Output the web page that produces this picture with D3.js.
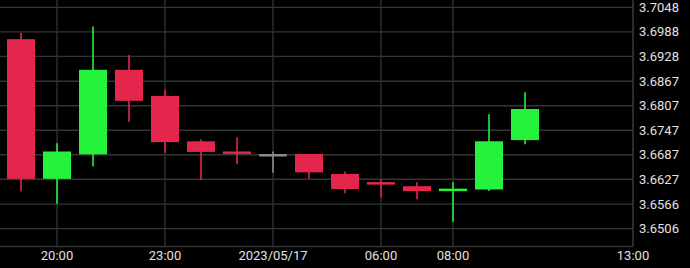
<!DOCTYPE html>
<html>
<head>
<meta charset="utf-8">
<script src="https://cdn.jsdelivr.net/npm/d3@7"></script>
<style>
  html, body { margin: 0; padding: 0; background: #000; }
  svg { display: block; }
</style>
</head>
<body>
<div id="chart"></div>
<script>
// hourly candles (open, high, low, close)
const opens  = [3.6970, 3.6628, 3.6688, 3.6895, 3.6831, 3.6720, 3.6695, 3.6686, 3.6689, 3.6640, 3.6620, 3.6610, 3.6598, 3.6602, 3.6723];
const highs  = [3.6986, 3.6715, 3.7001, 3.6931, 3.6846, 3.6725, 3.6730, 3.6695, 3.6689, 3.6646, 3.6627, 3.6620, 3.6620, 3.6786, 3.6840];
const lows   = [3.6597, 3.6567, 3.6658, 3.6768, 3.6692, 3.6625, 3.6664, 3.6643, 3.6628, 3.6593, 3.6583, 3.6578, 3.6523, 3.6598, 3.6713];
const closes = [3.6628, 3.6695, 3.6895, 3.6819, 3.6718, 3.6694, 3.6689, 3.6686, 3.6644, 3.6603, 3.6614, 3.6598, 3.6604, 3.6720, 3.6799];

const priceTicks = [3.7048, 3.6988, 3.6928, 3.6867, 3.6807, 3.6747, 3.6687, 3.6627, 3.6566, 3.6506];
const timeTickIdx = [1, 4, 7, 10, 12, 17];
const timeTickLabels = ["20:00", "23:00", "2023/05/17", "06:00", "08:00", "13:00"];

const width = 690, height = 268;
const plotRight = 633, plotBottom = 246.5;

const svg = d3.select("#chart").append("svg")
    .attr("width", width)
    .attr("height", height)
    .style("background", "#000");

// one candle per hour, 36px apart
const x = d3.scaleLinear()
    .domain([-21 / 36, 17])
    .range([0, plotRight]);

const y = d3.scaleLinear()
    .domain([3.6506, 3.7048])
    .range([228.7, 7.3]);

const grid = "#343434";

// horizontal grid
svg.append("g").selectAll("line")
    .data(priceTicks)
    .enter().append("line")
    .attr("x1", 0).attr("x2", plotRight)
    .attr("y1", d => y(d)).attr("y2", d => y(d))
    .style("stroke", grid).style("stroke-width", 1.3);

// vertical grid
svg.append("g").selectAll("line")
    .data(timeTickIdx)
    .enter().append("line")
    .attr("x1", d => x(d)).attr("x2", d => x(d))
    .attr("y1", 0).attr("y2", plotBottom)
    .style("stroke", grid).style("stroke-width", 1.3);

// frame: bottom + right
svg.append("line")
    .attr("x1", 0).attr("x2", plotRight)
    .attr("y1", plotBottom).attr("y2", plotBottom)
    .style("stroke", grid).style("stroke-width", 1.3);
svg.append("line")
    .attr("x1", plotRight).attr("x2", plotRight)
    .attr("y1", 0).attr("y2", plotBottom)
    .style("stroke", grid).style("stroke-width", 1.3);

// price labels
svg.append("g").selectAll("text")
    .data(priceTicks)
    .enter().append("text")
    .attr("x", 639)
    .attr("y", d => y(d))
    .attr("dy", "0.35em")
    .style("font-family", "Roboto, sans-serif")
    .style("font-size", "13px")
    .style("fill", "#e2e2e2")
    .text(d => d.toFixed(4));

// time labels
svg.append("g").selectAll("text")
    .data(timeTickIdx)
    .enter().append("text")
    .attr("x", d => x(d))
    .attr("y", 260)
    .attr("text-anchor", "middle")
    .style("font-family", "Roboto, sans-serif")
    .style("font-size", "13px")
    .style("fill", "#e2e2e2")
    .text((d, i) => timeTickLabels[i]);

const red = "#e4264c", green = "#25f23a", flat = "#8c8c8c";
const colorOf = i => closes[i] > opens[i] ? green : (closes[i] < opens[i] ? red : flat);
const idx = d3.range(opens.length);
const bodyW = 28;

// wicks
svg.append("g").selectAll("line")
    .data(idx)
    .enter().append("line")
    .attr("x1", i => x(i)).attr("x2", i => x(i))
    .attr("y1", i => y(highs[i])).attr("y2", i => y(lows[i]))
    .style("stroke", i => colorOf(i))
    .style("stroke-width", 1.6);

// bodies
svg.append("g").selectAll("rect")
    .data(idx)
    .enter().append("rect")
    .attr("x", i => x(i) - bodyW / 2)
    .attr("width", bodyW)
    .attr("y", i => {
        const top = y(Math.max(opens[i], closes[i]));
        const h = Math.abs(y(opens[i]) - y(closes[i]));
        return h < 2.5 ? top - (2.5 - h) / 2 : top;
    })
    .attr("height", i => Math.max(2.5, Math.abs(y(opens[i]) - y(closes[i]))))
    .attr("rx", i => opens[i] === closes[i] ? 1.2 : 0)
    .style("fill", i => colorOf(i));
</script>
</body>
</html>
